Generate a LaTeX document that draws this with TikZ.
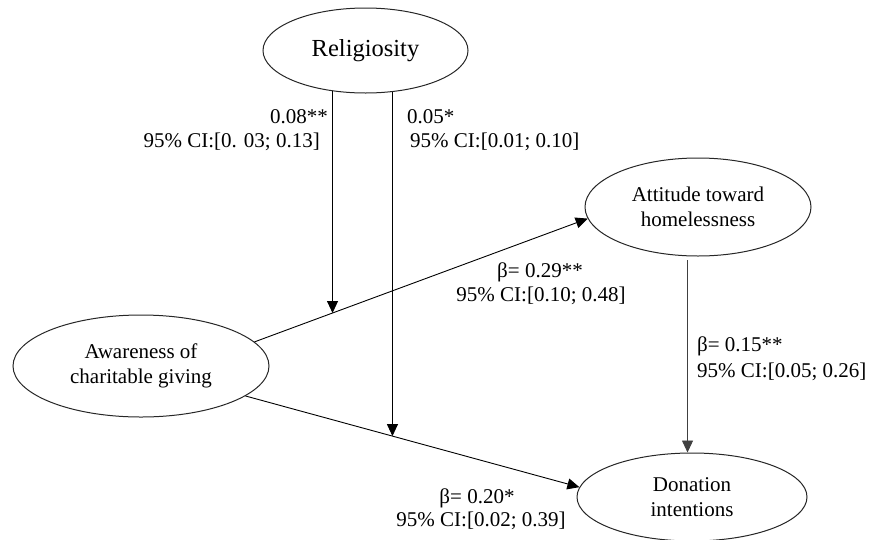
\documentclass[tikz,border=0pt]{standalone}
\usepackage{fontspec}
\setmainfont{Liberation Serif}[Ligatures=TeX]
\newfontfamily\tnr{Liberation Serif}
\usetikzlibrary{shapes.geometric,arrows.meta,intersections}
\begin{document}
\begin{tikzpicture}[x=1pt,y=-1pt,
  var/.style={draw=black!85,line width=1pt,ellipse,inner sep=0pt,align=center,font=\tnr\fontsize{21}{25}\selectfont},
  lbl/.style={inner sep=0pt,font=\tnr\fontsize{21}{25}\selectfont},
  conn/.style={line width=0.9pt,-{Triangle[length=12pt,width=11pt]}}]
\useasboundingbox (0,0) rectangle (870,539);
\node[var,minimum width=205pt,minimum height=85pt,font=\tnr\fontsize{24.5}{28}\selectfont] (rel) at (365.5,50.5) {Religiosity};
\node[var,minimum width=256pt,minimum height=102pt] (aw) at (141,366) {Awareness of\\charitable giving};
\node[var,minimum width=226pt,minimum height=98pt] (att) at (698,207) {Attitude toward\\homelessness};
\node[var,minimum width=230pt,minimum height=88pt] (don) at (692,497) {Donation\\intentions};
\draw[conn,name path=d1] (aw.12) -- (att.186);
\draw[conn,name path=d2] (aw.-16) -- (don.175);
\path[name path=v1] (rel.231) -- ++(0,400);
\path[name path=v2] (rel.303) -- ++(0,400);
\path[name intersections={of=v1 and d1,by=m1}];
\path[name intersections={of=v2 and d2,by=m2}];
\draw[conn] (rel.231) -- (m1);
\draw[conn] (rel.303) -- (m2);
\draw[conn,draw=black!75,fill=black!85,shorten <=4pt] (att.258) -- (att.258 |- don.north);
\node[lbl,anchor=east] (l1a) at (328,117) {0.08**};
\node[lbl,anchor=east] (l1b) at (320,142) {95\% CI:[0. 03; 0.13]};
\node[lbl,anchor=west] (l2a) at (407,117) {0.05*};
\node[lbl,anchor=west] (l2b) at (410,142) {95\% CI:[0.01; 0.10]};
\node[lbl] (l3a) at (540,272) {β= 0.29**};
\node[lbl] (l3b) at (541,296) {95\% CI:[0.10; 0.48]};
\node[lbl,anchor=west] (l4a) at (697,346) {β= 0.15**};
\node[lbl,anchor=west] (l4b) at (697,372) {95\% CI:[0.05; 0.26]};
\node[lbl] (l5a) at (477,498) {β= 0.20*};
\node[lbl] (l5b) at (481,521) {95\% CI:[0.02; 0.39]};
\end{tikzpicture}
\end{document}
